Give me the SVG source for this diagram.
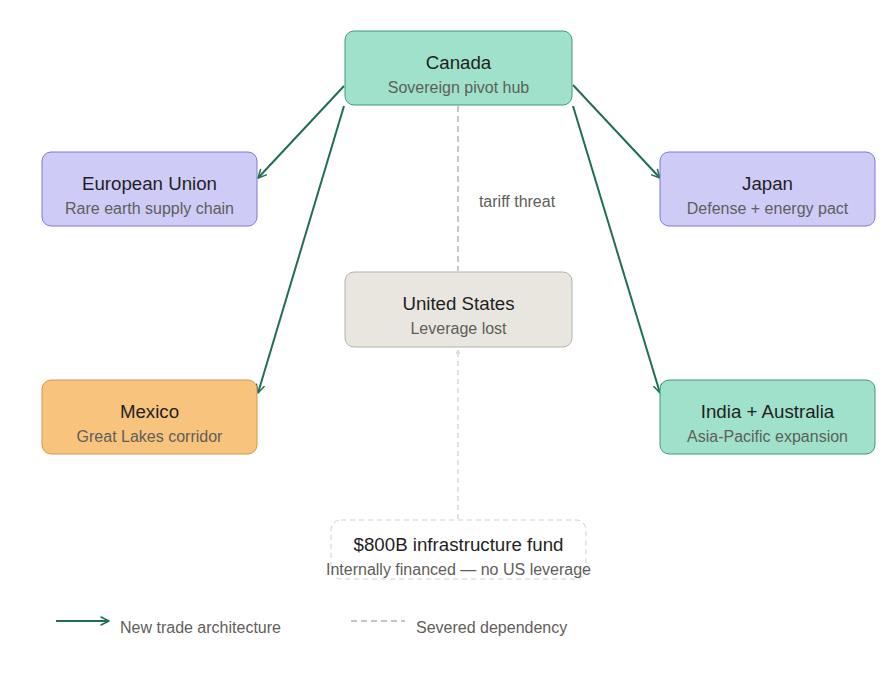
<svg xmlns="http://www.w3.org/2000/svg" width="889" height="673" viewBox="0 0 889 673">
<style>
  .t { font-family: "Liberation Sans", Arial, sans-serif; font-size: 18.7px; fill: #1f1f1f; text-anchor: middle; }
  .s { font-family: "Liberation Sans", Arial, sans-serif; font-size: 16px; fill: #5f5e5a; text-anchor: middle; }
  .lg { font-family: "Liberation Sans", Arial, sans-serif; font-size: 16px; fill: #5f5e5a; }
  .teal { fill: #9fe1cb; stroke: #3f9a79; stroke-width: 1; }
  .purple { fill: #cecbf6; stroke: #7f77dd; stroke-width: 1; }
  .amber { fill: #f8c37d; stroke: #d6994a; stroke-width: 1; }
  .gray { fill: #e8e6df; stroke: #b4b2a9; stroke-width: 1; }
  .arrow { stroke: #1f6e55; stroke-width: 2; fill: none; marker-end: url(#ah); }
  .sev { stroke: #b8b6af; stroke-width: 1.5; stroke-dasharray: 6 4; fill: none; }
</style>
<defs>
  <marker id="ah" viewBox="0 0 10 10" refX="9" refY="5" markerWidth="10" markerHeight="10" orient="auto" markerUnits="userSpaceOnUse">
    <path d="M1,1 L9,5 L1,9" fill="none" stroke="#1f6e55" stroke-width="1.5" stroke-linecap="round" stroke-linejoin="round"/>
  </marker>
  <marker id="ahg" viewBox="0 0 10 10" refX="9" refY="5" markerWidth="5" markerHeight="5" orient="auto" markerUnits="userSpaceOnUse">
    <path d="M1,1 L9,5 L1,9" fill="none" stroke="#c8c6bf" stroke-width="1.5"/>
  </marker>
</defs>
<rect width="889" height="673" fill="#ffffff"/>

<g id="connectors">
  <line class="sev" x1="458" y1="106" x2="458" y2="271"/>
  <text class="s" x="517" y="207">tariff threat</text>
  <line x1="458" y1="519" x2="458" y2="350" stroke="#c8c6bf" stroke-width="1" stroke-dasharray="5 4" marker-end="url(#ahg)"/>
  <line class="arrow" x1="344" y1="86" x2="258" y2="178"/>
  <line class="arrow" x1="344" y1="106" x2="258" y2="393"/>
  <line class="arrow" x1="573" y1="85" x2="660" y2="178"/>
  <line class="arrow" x1="573" y1="106" x2="660" y2="393"/>
</g>

<g id="canada">
  <rect class="teal" x="345" y="31" width="227" height="74" rx="9"/>
  <text class="t" x="458.5" y="69">Canada</text>
  <text class="s" x="458.5" y="93">Sovereign pivot hub</text>
</g>
<g id="eu">
  <rect class="purple" x="42" y="152" width="215" height="74" rx="9"/>
  <text class="t" x="149.5" y="190">European Union</text>
  <text class="s" x="149.5" y="214">Rare earth supply chain</text>
</g>
<g id="japan">
  <rect class="purple" x="660" y="152" width="215" height="74" rx="9"/>
  <text class="t" x="767.5" y="190">Japan</text>
  <text class="s" x="767.5" y="214">Defense + energy pact</text>
</g>
<g id="us">
  <rect class="gray" x="345" y="272" width="227" height="75" rx="9"/>
  <text class="t" x="458.5" y="310">United States</text>
  <text class="s" x="458.5" y="334">Leverage lost</text>
</g>
<g id="mexico">
  <rect class="amber" x="42" y="380" width="215" height="74" rx="9"/>
  <text class="t" x="149.5" y="418">Mexico</text>
  <text class="s" x="149.5" y="442">Great Lakes corridor</text>
</g>
<g id="india-australia">
  <rect class="teal" x="660" y="380" width="215" height="74" rx="9"/>
  <text class="t" x="767.5" y="418">India + Australia</text>
  <text class="s" x="767.5" y="442">Asia-Pacific expansion</text>
</g>
<g id="fund">
  <rect x="331" y="520" width="255" height="59" rx="10" fill="#ffffff" stroke="#cfcfcf" stroke-width="1" stroke-dasharray="5 4"/>
  <text class="t" x="458.5" y="551">$800B infrastructure fund</text>
  <text class="s" x="458.5" y="575">Internally financed — no US leverage</text>
</g>

<g id="legend">
  <line x1="56" y1="621" x2="109" y2="621" stroke="#1f6e55" stroke-width="2" marker-end="url(#ah)"/>
  <text class="lg" x="120" y="633">New trade architecture</text>
  <line x1="351" y1="621" x2="405" y2="621" stroke="#b4b2a9" stroke-width="1.5" stroke-dasharray="6 4"/>
  <text class="lg" x="416" y="633">Severed dependency</text>
</g>
</svg>
